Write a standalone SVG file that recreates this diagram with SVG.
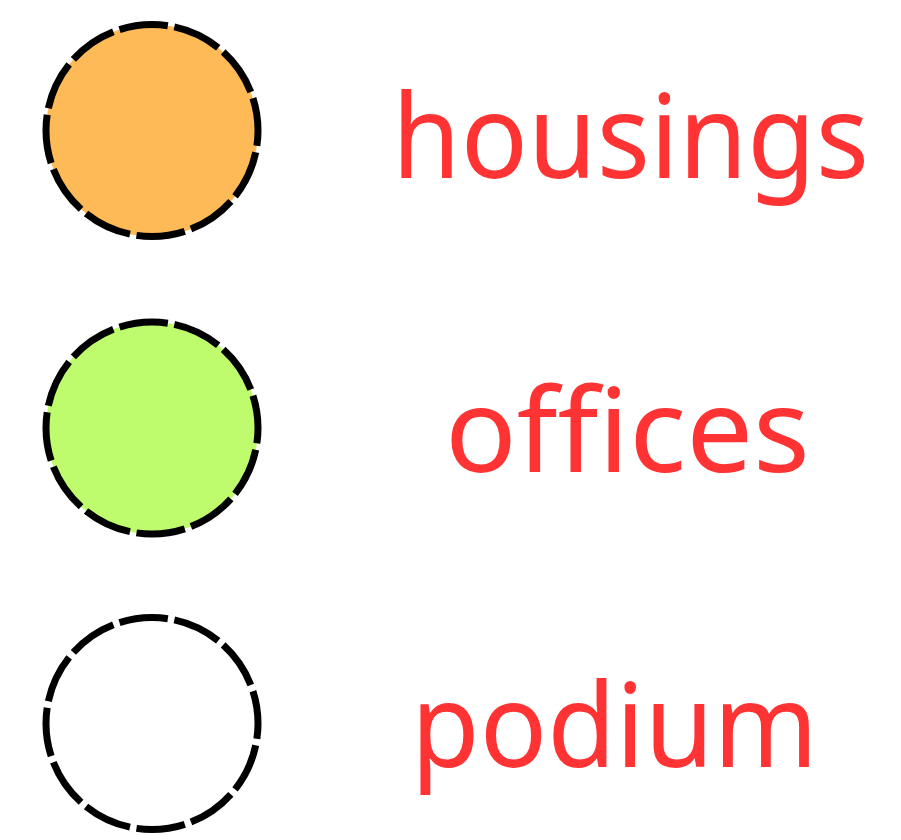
<svg xmlns="http://www.w3.org/2000/svg" width="901" height="840" viewBox="0 0 901 840">
<style>
.c{stroke:#000;stroke-width:7;stroke-dasharray:49 6.5;stroke-dashoffset:33.5}
.t{font-family:"Noto Sans","Open Sans",sans-serif;font-size:117px;fill:#FF3333}
</style>
<rect width="901" height="840" fill="#fff"/>
<g id="housings">
<circle class="c" cx="152" cy="130.5" r="106" fill="#FDBA57"/>
<text class="t" x="392" y="178" textLength="477" lengthAdjust="spacingAndGlyphs">housings</text>
</g>
<g id="offices">
<circle class="c" cx="152" cy="428" r="106" fill="#BEFC6E"/>
<text class="t" x="445" y="472" textLength="365" lengthAdjust="spacingAndGlyphs">offices</text>
</g>
<g id="podium">
<circle class="c" cx="152" cy="723.5" r="106" fill="#fff"/>
<text class="t" x="411" y="767" textLength="407" lengthAdjust="spacingAndGlyphs">podium</text>
</g>
</svg>
